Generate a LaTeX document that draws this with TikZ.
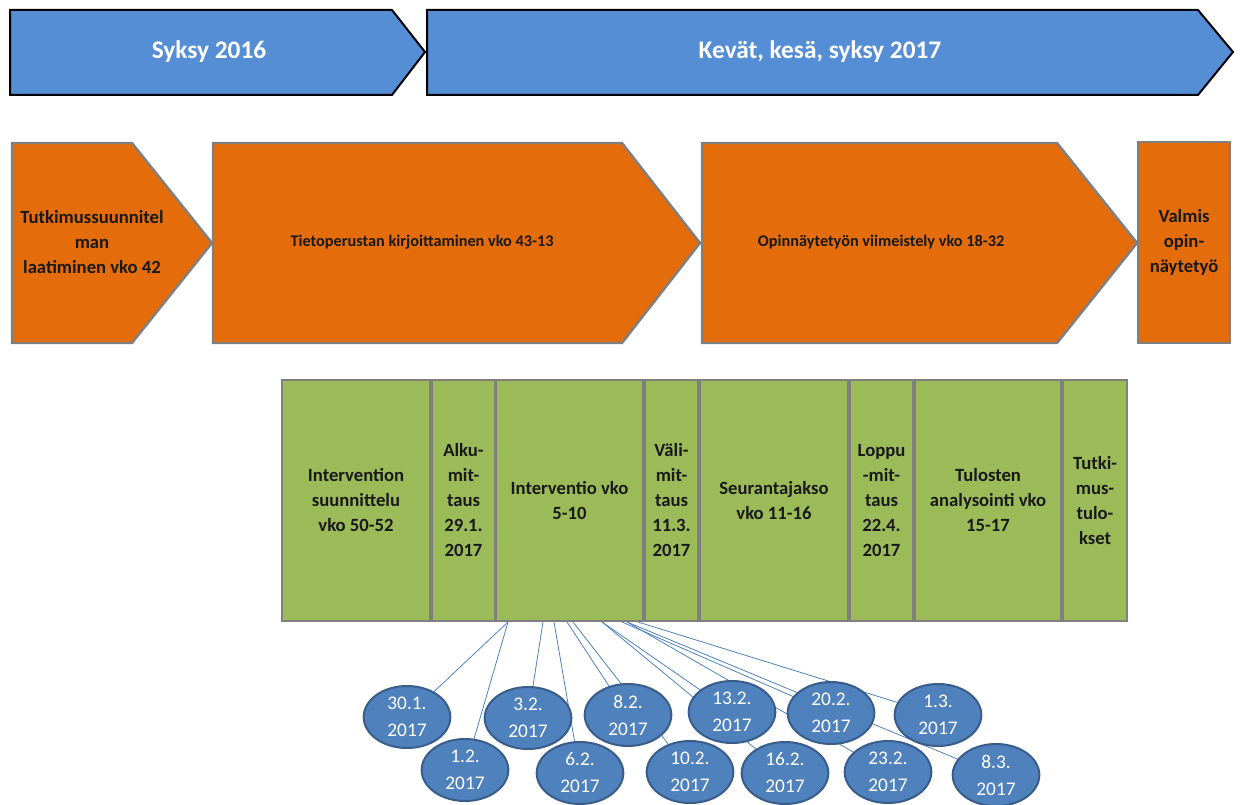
\documentclass[tikz,border=0pt]{standalone}
\usepackage{fontspec}
\setmainfont{Carlito}
\usetikzlibrary{shapes.geometric,backgrounds}
\definecolor{kausisin}{HTML}{558ED5}
\definecolor{vaihekel}{HTML}{E46C0A}
\definecolor{osavihr}{HTML}{9BBB59}
\definecolor{pvmsin}{HTML}{4F81BD}
\definecolor{pvmreuna}{HTML}{385D8A}
\definecolor{reuna}{HTML}{7F7F7F}
\begin{document}
\begin{tikzpicture}
  [x=0.75pt,y=-0.75pt,
    kausi/.style={draw=black,line width=1.5pt,fill=kausisin,line join=miter},
    vaihe/.style={draw=reuna,line width=1.8pt,fill=vaihekel,line join=miter},
    ktxt/.style={text=white,font=\fontsize{19}{23}\selectfont\bfseries},
    vtxt/.style={align=center,text=black!90,font=\fontsize{14}{18.75}\selectfont\bfseries},
    vtxtpieni/.style={vtxt,font=\fontsize{12.2}{18.75}\selectfont\bfseries},
    osa/.style={draw=reuna,line width=2pt,fill=osavihr,minimum height=180.75pt,
      inner sep=0pt,align=center,text=black!90,font=\fontsize{14}{18.75}\selectfont\bfseries},
    pvm/.style={ellipse,draw=pvmreuna,line width=1.5pt,fill=pvmsin,minimum width=65pt,
      minimum height=46.5pt,inner sep=0pt,text=white,align=center,font=\fontsize{14.5}{20.25}\selectfont},
    yhteys/.style={draw=pvmsin,line width=0.6pt},
]
  \useasboundingbox (0,0) rectangle (1241,805);

  \draw[kausi] (10,10)--(392,10)--(425,52)--(392,95)--(10,95)--cycle;
  \draw[kausi] (427,10)--(1198,10)--(1233,52)--(1198,95)--(427,95)--cycle;
  \node[ktxt](s2016) at (209,52) {Syksy 2016};
  \node[ktxt](k2017) at (820,52) {Kevät, kesä, syksy 2017};

  \draw[vaihe] (12,143)--(132,143)--(212,243)--(132,343)--(12,343)--cycle;
  \draw[vaihe] (213,143)--(622,143)--(700,243)--(622,343)--(213,343)--cycle;
  \draw[vaihe] (702,143)--(1057,143)--(1137,243)--(1057,343)--(702,343)--cycle;
  \draw[vaihe] (1138,142)--(1230,142)--(1230,343)--(1138,343)--cycle;
  \node[vtxt](tsu) at (92,242) {Tutkimussuunnitel\\man\\laatiminen vko 42};
  \node[vtxtpieni](tpk) at (422,242) {Tietoperustan kirjoittaminen vko 43-13};
  \node[vtxtpieni](onv) at (881,242) {Opinnäytetyön viimeistely vko 18-32};
  \node[vtxt](vao) at (1184,242) {Valmis\\opin-\\näytetyö};

  \node[osa,minimum width=111pt](isu) at (356,500.5) {Intervention\\suunnittelu\\vko 50-52};
  \node[osa,minimum width=47.25pt](alm) at (463.5,500.5) {Alku-\\mit-\\taus\\29.1.\\2017};
  \node[osa,minimum width=110.25pt](iv) at (569.5,500.5) {Interventio vko\\5-10};
  \node[osa,minimum width=39.75pt](vam) at (671.5,500.5) {Väli-\\mit-\\taus\\11.3.\\2017};
  \node[osa,minimum width=111pt](sj) at (774,500.5) {Seurantajakso\\vko 11-16};
  \node[osa,minimum width=47.25pt](lom) at (881.5,500.5) {Loppu\\-mit-\\taus\\22.4.\\2017};
  \node[osa,minimum width=109.5pt](ta) at (988,500.5) {Tulosten\\analysointi vko\\15-17};
  \node[osa,minimum width=48pt](tt) at (1095,500.5) {Tutki-\\mus-\\tulo-\\kset};

  \node[pvm](d301) at (407,717) {30.1.\\2017};
  \node[pvm](d12) at (465,770) {1.2.\\2017};
  \node[pvm](d32) at (528,718) {3.2.\\2017};
  \node[pvm](d62) at (580,773) {6.2.\\2017};
  \node[pvm](d82) at (628,715) {8.2.\\2017};
  \node[pvm](d102) at (690,772) {10.2.\\2017};
  \node[pvm](d132) at (732,712) {13.2.\\2017};
  \node[pvm](d162) at (785,773) {16.2.\\2017};
  \node[pvm](d202) at (831,713) {20.2.\\2017};
  \node[pvm](d232) at (888,772) {23.2.\\2017};
  \node[pvm](d13) at (938,715) {1.3.\\2017};
  \node[pvm](d83) at (996,775) {8.3.\\2017};

  \coordinate(iv1) at (508,622);
  \coordinate(iv2) at (543,622);
  \coordinate(iv3) at (554,622);
  \coordinate(iv4) at (567,622);
  \coordinate(iv5) at (573,622);
  \coordinate(iv6) at (602,622);
  \coordinate(iv7) at (622,622);
  \coordinate(iv8) at (627,622);
  \coordinate(iv9) at (638,622);

  \begin{scope}[on background layer]
    \draw[yhteys] (iv1)--(d301.center);
    \draw[yhteys] (iv1)--(d12.center);
    \draw[yhteys] (iv2)--(d32.center);
    \draw[yhteys] (iv3)--(d62.center);
    \draw[yhteys] (iv4)--(d82.center);
    \draw[yhteys] (iv5)--(d102.center);
    \draw[yhteys] (iv6)--(d132.center);
    \draw[yhteys] (iv6)--(d162.center);
    \draw[yhteys] (iv7)--(d202.center);
    \draw[yhteys] (iv8)--(d232.center);
    \draw[yhteys] (iv9)--(d13.center);
    \draw[yhteys] (iv8)--(d83.center);
  \end{scope}

\end{tikzpicture}
\end{document}
